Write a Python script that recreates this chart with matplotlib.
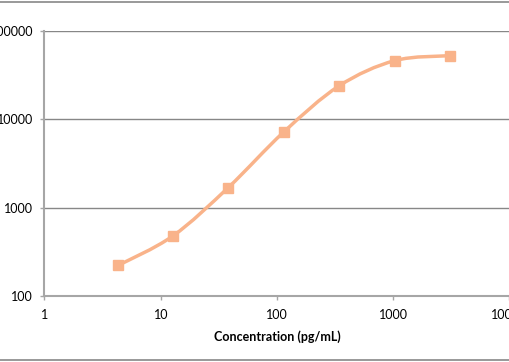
import matplotlib
matplotlib.use("Agg")
import matplotlib.pyplot as plt
import numpy as np
from matplotlib.path import Path
from matplotlib.patches import PathPatch
from matplotlib.lines import Line2D

concentration = [4.3, 12.7, 38.1, 114.5, 342, 1030, 3090]
signal = [222, 478, 1690, 7200, 23900, 46200, 52600]
x_ticks = [1, 10, 100, 1000, 10000]
y_ticks = [100, 1000, 10000, 100000]

ORANGE = "#F9B38A"
GRID = "#878787"
AXIS = "#A6A6A6"

plt.rcParams["font.family"] = ["Lato", "DejaVu Sans"]

fig = plt.figure(figsize=(5.1, 3.62), dpi=100)
ax = fig.add_axes([44.5 / 510, 66 / 362, 465 / 510, 265 / 362])
ax.set_xscale("log")
ax.set_yscale("log")
ax.set_xlim(1, 10000)
ax.set_ylim(100, 100000)

# smoothed line (Catmull-Rom style Bezier in log space, like a spreadsheet "smooth line")
lx = np.log10(concentration)
ly = np.log10(signal)
n = len(lx)
verts = [(lx[0], ly[0])]
codes = [Path.MOVETO]
t = 1.0 / 6.0
for i in range(n - 1):
    p0 = (lx[max(i - 1, 0)], ly[max(i - 1, 0)])
    p1 = (lx[i], ly[i])
    p2 = (lx[i + 1], ly[i + 1])
    p3 = (lx[min(i + 2, n - 1)], ly[min(i + 2, n - 1)])
    c1 = (p1[0] + (p2[0] - p0[0]) * t, p1[1] + (p2[1] - p0[1]) * t)
    c2 = (p2[0] - (p3[0] - p1[0]) * t, p2[1] - (p3[1] - p1[1]) * t)
    verts += [c1, c2, p2]
    codes += [Path.CURVE4] * 3
verts = [(10 ** vx, 10 ** vy) for vx, vy in verts]
ax.add_patch(PathPatch(Path(verts, codes), facecolor="none", edgecolor=ORANGE,
                       linewidth=2.5, zorder=3, capstyle="round"))
ax.plot(concentration, signal, linestyle="none", marker="s", markersize=7,
        color=ORANGE, zorder=4)

ax.set_xticks(x_ticks)
ax.set_yticks(y_ticks)
ax.set_xticklabels([str(v) for v in x_ticks])
ax.set_yticklabels([str(v) for v in y_ticks])
ax.minorticks_off()
ax.grid(axis="y", color=GRID, linewidth=1.0)
ax.set_axisbelow(True)
for side in ["top", "right"]:
    ax.spines[side].set_visible(False)
ax.spines["left"].set_color(AXIS)
ax.spines["left"].set_linewidth(1.5)
ax.spines["bottom"].set_color(AXIS)
ax.spines["bottom"].set_linewidth(1.5)
ax.tick_params(axis="both", colors=AXIS, labelcolor="#000000", labelsize=9,
               length=2.8, width=1.0, direction="out")
ax.tick_params(axis="y", pad=5.5)
ax.tick_params(axis="x", pad=6.5)
ax.set_xlabel("Concentration (pg/mL)", fontsize=9, fontweight="bold", labelpad=7)

# chart border lines
fig.add_artist(Line2D([0, 1], [1 - 1.5 / 362, 1 - 1.5 / 362], color=GRID, linewidth=1.2,
                      transform=fig.transFigure))
fig.add_artist(Line2D([0, 1], [2 / 362, 2 / 362], color=GRID, linewidth=1.2,
                      transform=fig.transFigure))

fig.savefig("out.png", dpi=100)
